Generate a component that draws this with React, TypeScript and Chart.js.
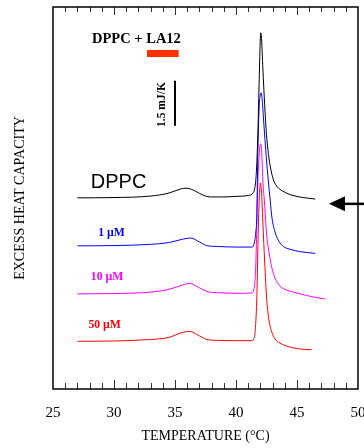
import React, { useEffect, useRef } from "react";
import { Chart, registerables } from "chart.js";

Chart.register(...registerables);

const SERIF = "'Liberation Serif', 'Times New Roman', Times, serif";
const SANS = "'Liberation Sans', Arial, Helvetica, sans-serif";

// x axis (temperature, °C)
const xMin = 25;
const xMax = 50;
const xTickLabels = [25, 30, 35, 40, 45, 50];
const minorTickStep = 1;

// y axis (excess heat capacity, mJ/K, curves offset vertically)
const yMin = 0;
const yMax = 12.73;

// DPPC (black)
const dppcT = [27.0, 30, 33, 34.5, 35.5, 35.9, 36.5, 37.0, 37.5, 37.9, 39, 40, 41.0, 41.4, 41.5, 41.6, 41.7, 41.8, 41.9, 42.0, 42.03, 42.1, 42.2, 42.35, 42.5, 42.7, 42.9, 43.1, 43.4, 43.8, 44.5, 45.5, 46.5];
const dppcV = [6.37, 6.38, 6.43, 6.53, 6.67, 6.69, 6.63, 6.52, 6.43, 6.40, 6.40, 6.42, 6.45, 6.53, 6.63, 6.87, 7.47, 8.63, 10.30, 11.73, 11.87, 11.63, 10.70, 9.47, 8.47, 7.70, 7.23, 6.93, 6.73, 6.60, 6.47, 6.38, 6.33];

// 1 µM (blue)
const la1T = [27.0, 30, 33, 34.5, 35.5, 36.3, 37.0, 37.6, 38.5, 40, 41.3, 41.45, 41.55, 41.62, 41.7, 41.78, 41.9, 42.0, 42.06, 42.15, 42.25, 42.5, 42.8, 42.95, 43.2, 43.6, 44.0, 44.5, 45.2, 46.5];
const la1V = [4.77, 4.78, 4.82, 4.88, 4.98, 5.03, 4.90, 4.78, 4.75, 4.73, 4.73, 4.80, 4.97, 5.23, 5.70, 7.63, 9.40, 9.80, 9.87, 9.63, 9.03, 7.63, 6.30, 5.70, 5.23, 4.87, 4.72, 4.65, 4.58, 4.52];

// 10 µM (magenta)
const la10T = [27.0, 30, 33, 34.5, 35.5, 36.2, 37.0, 37.6, 38.5, 40, 41.3, 41.45, 41.55, 41.62, 41.7, 41.8, 41.9, 42.0, 42.1, 42.2, 42.35, 42.5, 42.7, 42.92, 43.2, 43.6, 44.15, 44.7, 45.25, 46.3, 47.3];
const la10V = [3.17, 3.18, 3.23, 3.32, 3.45, 3.52, 3.37, 3.25, 3.21, 3.19, 3.20, 3.30, 3.57, 4.10, 5.30, 6.97, 7.80, 8.17, 7.97, 6.97, 6.13, 5.20, 4.57, 4.07, 3.70, 3.43, 3.30, 3.23, 3.17, 3.07, 3.00];

// 50 µM (red)
const la50T = [27.0, 30, 33, 34.5, 35.5, 36.2, 37.0, 37.6, 38.5, 40, 41.3, 41.45, 41.56, 41.7, 41.83, 41.92, 42.0, 42.08, 42.2, 42.35, 42.52, 42.7, 42.93, 43.2, 43.6, 44.4, 45.3, 46.2];
const la50V = [1.59, 1.60, 1.65, 1.72, 1.87, 1.92, 1.77, 1.65, 1.62, 1.61, 1.61, 1.67, 1.87, 2.97, 5.37, 6.47, 6.87, 6.63, 5.57, 4.23, 2.97, 2.30, 1.90, 1.67, 1.53, 1.40, 1.33, 1.31];

// 1.5 mJ/K scale bar
const scaleBarT = [35.0, 35.0];
const scaleBarV = [8.77, 10.27];

const seriesNames = ["DPPC", "1 µM", "10 µM", "50 µM"];
const seriesColors = ["#000000", "#0000ff", "#ff00ff", "#ff0000"];

const toPoints = (t: number[], v: number[]) => t.map((x, i) => ({ x, y: v[i] }));

const annotations = {
  id: "annotations",
  afterDraw(chart: any) {
    const { ctx, chartArea: a, scales } = chart;
    const x = scales.x;
    const y = scales.y;
    ctx.save();

    // inward tick marks on top and bottom
    ctx.strokeStyle = "#333";
    ctx.lineWidth = 1;
    for (let t = xMin + minorTickStep; t < xMax; t += minorTickStep) {
      const px = Math.round(x.getPixelForValue(t)) + 0.5;
      const major = t % 5 === 0;
      const lenB = major ? 9 : 6;
      const lenT = major ? 8 : 5;
      ctx.beginPath();
      ctx.moveTo(px, a.bottom);
      ctx.lineTo(px, a.bottom - lenB);
      ctx.moveTo(px, a.top);
      ctx.lineTo(px, a.top + lenT);
      ctx.stroke();
    }

    // frame
    ctx.strokeStyle = "#000";
    ctx.lineWidth = 1.5;
    ctx.strokeRect(a.left, a.top, a.right - a.left, a.bottom - a.top);

    const text = (s: string, tx: number, vy: number, font: string, color: string, rot = 0, align: CanvasTextAlign = "left") => {
      ctx.save();
      ctx.translate(x.getPixelForValue(tx), y.getPixelForValue(vy));
      ctx.rotate(rot);
      ctx.font = font;
      ctx.fillStyle = color;
      ctx.textAlign = align;
      ctx.textBaseline = "middle";
      ctx.fillText(s, 0, 0);
      ctx.restore();
    };

    text("DPPC + LA12", 28.2, 11.67, `bold 14.5px ${SERIF}`, "#000");
    // orange bar
    const bx1 = x.getPixelForValue(32.7);
    const bx2 = x.getPixelForValue(35.3);
    const by = y.getPixelForValue(11.18);
    ctx.fillStyle = "#ff3300";
    ctx.fillRect(bx1, by - 3.5, bx2 - bx1, 7);

    text("1.5 mJ/K", 33.9, 9.48, `bold 11.5px ${SERIF}`, "#000", -Math.PI / 2, "center");
    text(seriesNames[0], 28.1, 6.87, `20px ${SANS}`, seriesColors[0]);
    text(seriesNames[1], 28.7, 5.21, `bold 11.7px ${SERIF}`, seriesColors[1]);
    text(seriesNames[2], 28.1, 3.74, `bold 11.7px ${SERIF}`, seriesColors[2]);
    text(seriesNames[3], 27.9, 2.13, `bold 11.7px ${SERIF}`, seriesColors[3]);

    // arrow pointing at the DPPC baseline
    const tipX = x.getPixelForValue(47.62);
    const tipY = y.getPixelForValue(6.17);
    ctx.fillStyle = "#000";
    ctx.beginPath();
    ctx.moveTo(tipX, tipY);
    ctx.lineTo(tipX + 16, tipY - 7.5);
    ctx.lineTo(tipX + 16, tipY + 7.5);
    ctx.closePath();
    ctx.fill();
    ctx.strokeStyle = "#000";
    ctx.lineWidth = 2.5;
    ctx.beginPath();
    ctx.moveTo(tipX + 14, tipY);
    ctx.lineTo(chart.width, tipY);
    ctx.stroke();

    ctx.restore();
  },
};

export default function App() {
  const ref = useRef<HTMLCanvasElement | null>(null);

  useEffect(() => {
    if (!ref.current) return;
    Chart.defaults.font.family = SERIF;
    const mk = (label: string, t: number[], v: number[], color: string, width = 1) => ({
      label,
      data: toPoints(t, v),
      borderColor: color,
      backgroundColor: color,
      borderWidth: width,
      pointRadius: 0,
      fill: false,
      cubicInterpolationMode: "monotone" as const,
    });
    const chart = new Chart(ref.current, {
      type: "line",
      data: {
        datasets: [
          mk(seriesNames[0], dppcT, dppcV, seriesColors[0]),
          mk(seriesNames[1], la1T, la1V, seriesColors[1]),
          mk(seriesNames[2], la10T, la10V, seriesColors[2]),
          mk(seriesNames[3], la50T, la50V, seriesColors[3]),
          mk("scale", scaleBarT, scaleBarV, "#000", 2),
        ],
      },
      options: {
        animation: false,
        responsive: false,
        devicePixelRatio: 1,
        layout: { padding: { top: 7, left: 0, right: 0, bottom: 0 } },
        plugins: { legend: { display: false }, tooltip: { enabled: false } },
        scales: {
          x: {
            type: "linear",
            min: xMin,
            max: xMax,
            afterBuildTicks: (s: any) => {
              s.ticks = xTickLabels.map((v) => ({ value: v }));
            },
            ticks: {
              padding: -1.5,
              color: "#000",
              autoSkip: false,
              maxRotation: 0,
              font: { size: 15, family: SERIF },
            },
            grid: { display: true, drawOnChartArea: false, drawTicks: true, tickLength: 16.5, color: "rgba(0,0,0,0)" },
            border: { display: false },
            title: {
              display: true,
              text: "TEMPERATURE (°C)",
              color: "#000",
              font: { size: 14, family: SERIF },
              padding: { top: 7.1, bottom: 3.6 },
            },
          },
          y: {
            type: "linear",
            min: yMin,
            max: yMax,
            ticks: { display: false },
            grid: { display: false, drawTicks: false },
            border: { display: false },
            title: {
              display: true,
              text: "EXCESS HEAT CAPACITY",
              color: "#000",
              font: { size: 14, family: SERIF },
              padding: { top: 11.6, bottom: 24.6 },
            },
          },
        },
      },
      plugins: [annotations],
    });
    return () => chart.destroy();
  }, []);

  return (
    <div style={{ position: "fixed", left: 0, top: 0, width: 364, height: 448, background: "#fff" }}>
      <canvas ref={ref} width={364} height={448} style={{ display: "block" }} />
    </div>
  );
}
